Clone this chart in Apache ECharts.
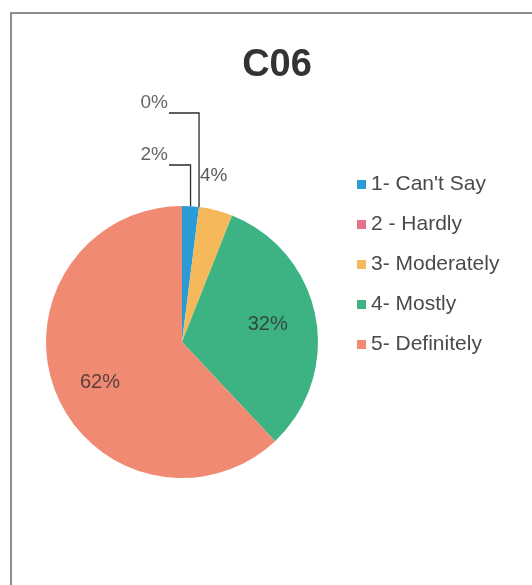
<!DOCTYPE html>
<html>
<head>
<meta charset="utf-8">
<style>
  html, body { margin: 0; padding: 0; background: #ffffff; }
  #chart { width: 532px; height: 585px; }
</style>
<script src="https://cdn.jsdelivr.net/npm/echarts@6/dist/echarts.min.js"></script>
</head>
<body>
<div id="chart"></div>
<script>
// Survey item C06: share of responses per answer level (percent)
const categories = ["1- Can't Say", '2 - Hardly', '3- Moderately', '4- Mostly', '5- Definitely'];
const shares = [2, 0, 4, 32, 62];
const sliceColors = ['#2a9bd5', '#e8728c', '#f5b95c', '#3db383', '#f08a72'];
const chartTitle = 'C06';

const FONT = '"Liberation Sans", Arial, sans-serif';

// small labels that sit above the pie, with elbow leader lines for the top two
const outsideLabels = {
  0: { x: 168, y: 164, line: 165 },
  1: { x: 168, y: 112, line: 113 },
  2: { x: 200, y: 176 }
};

const pieData = categories.map(function (name, i) {
  const item = { name: name, value: shares[i], itemStyle: { color: sliceColors[i] } };
  if (i <= 1) {
    item.label = { position: 'outside', fontSize: 19, color: '#666666' };
    item.labelLine = { show: true, length: 10, length2: 10, lineStyle: { color: '#2b2b2b', width: 1.3 } };
  } else if (i === 2) {
    item.label = { position: 'outside', fontSize: 19, color: '#5a5a5a' };
    item.labelLine = { show: false, length: 2, length2: 2 };
  } else if (i === 3) {
    item.label = { offset: [16, -4] };
  } else {
    item.label = { offset: [-16, 14] };
  }
  return item;
});

const chart = echarts.init(document.getElementById('chart'), null, { renderer: 'canvas' });

chart.setOption({
  backgroundColor: '#ffffff',
  animation: false,
  graphic: [{
    type: 'rect',
    shape: { x: 11, y: 13, width: 600, height: 620 },
    style: { fill: 'none', stroke: '#8e8e8e', lineWidth: 2 },
    silent: true
  }],
  title: {
    text: chartTitle,
    left: 272,
    textAlign: 'center',
    top: 42,
    textStyle: { fontFamily: FONT, fontSize: 38, fontWeight: 'bold', color: '#333333' }
  },
  legend: {
    orient: 'vertical',
    left: 357,
    top: 174,
    icon: 'rect',
    itemWidth: 9,
    itemHeight: 9,
    itemGap: 19,
    padding: 0,
    data: categories,
    textStyle: { fontFamily: FONT, fontSize: 21, color: '#4a4a4a' }
  },
  series: [{
    type: 'pie',
    center: [182, 342],
    radius: [0, 136],
    startAngle: 90,
    clockwise: true,
    avoidLabelOverlap: false,
    stillShowZeroSum: true,
    data: pieData,
    label: {
      show: true,
      position: 'inside',
      formatter: function (p) { return p.value + '%'; },
      fontFamily: FONT,
      fontSize: 20,
      color: 'rgba(45,45,45,0.78)'
    },
    labelLayout: function (params) {
      const spot = outsideLabels[params.dataIndex];
      if (!spot) return {};
      if (spot.line == null) {
        return { x: spot.x, y: spot.y, align: 'left', verticalAlign: 'middle' };
      }
      const pts = params.labelLinePoints;
      const start = pts && pts.length ? pts[0] : [182, 206];
      return {
        x: spot.x,
        y: spot.y,
        align: 'right',
        verticalAlign: 'bottom',
        labelLinePoints: [
          [start[0], start[1]],
          [start[0], spot.line],
          [spot.x + 1, spot.line]
        ]
      };
    },
    emphasis: { disabled: true }
  }]
});
</script>
</body>
</html>
